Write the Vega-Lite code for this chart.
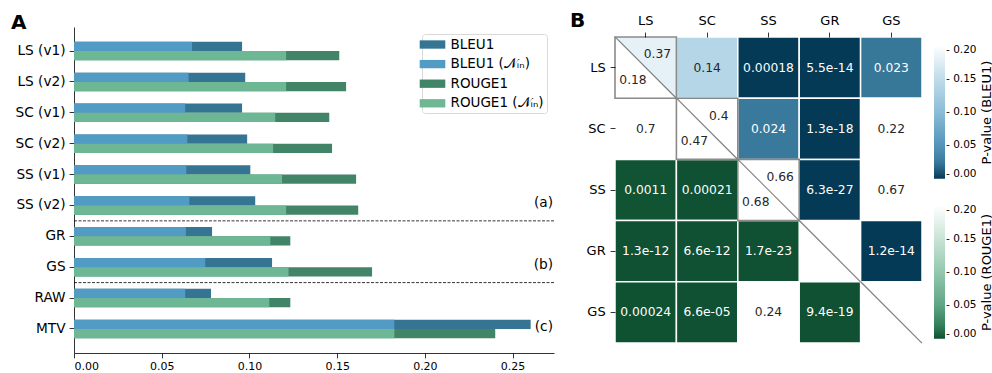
{
  "$schema": "https://vega.github.io/schema/vega-lite/v6.json",
  "padding": {"left": 11, "top": 10, "right": 0, "bottom": 0},
  "spacing": 15,
  "config": {
    "font": "DejaVu Sans",
    "view": {"stroke": null},
    "axis": {"domainColor": "#000", "tickColor": "#000", "labelColor": "#000", "titleColor": "#000", "tickWidth": 0.8, "domainWidth": 0.8, "grid": false},
    "legend": {"labelColor": "#000", "titleColor": "#000"},
    "title": {"color": "#000"}
  },
  "datasets": {
    "bars": [
      {"cat": "LS (v1)", "metric": "BLEU1", "series": "BLEU1", "subset": "all", "value": 0.0958},
      {"cat": "LS (v1)", "metric": "BLEU1", "series": "BLEU1 (𝒩ᵢₙ)", "subset": "in", "value": 0.0673},
      {"cat": "LS (v1)", "metric": "ROUGE1", "series": "ROUGE1", "subset": "all", "value": 0.1512},
      {"cat": "LS (v1)", "metric": "ROUGE1", "series": "ROUGE1 (𝒩ᵢₙ)", "subset": "in", "value": 0.1209},
      {"cat": "LS (v2)", "metric": "BLEU1", "series": "BLEU1", "subset": "all", "value": 0.0976},
      {"cat": "LS (v2)", "metric": "BLEU1", "series": "BLEU1 (𝒩ᵢₙ)", "subset": "in", "value": 0.0653},
      {"cat": "LS (v2)", "metric": "ROUGE1", "series": "ROUGE1", "subset": "all", "value": 0.1551},
      {"cat": "LS (v2)", "metric": "ROUGE1", "series": "ROUGE1 (𝒩ᵢₙ)", "subset": "in", "value": 0.1209},
      {"cat": "SC (v1)", "metric": "BLEU1", "series": "BLEU1", "subset": "all", "value": 0.0958},
      {"cat": "SC (v1)", "metric": "BLEU1", "series": "BLEU1 (𝒩ᵢₙ)", "subset": "in", "value": 0.0634},
      {"cat": "SC (v1)", "metric": "ROUGE1", "series": "ROUGE1", "subset": "all", "value": 0.1455},
      {"cat": "SC (v1)", "metric": "ROUGE1", "series": "ROUGE1 (𝒩ᵢₙ)", "subset": "in", "value": 0.1147},
      {"cat": "SC (v2)", "metric": "BLEU1", "series": "BLEU1", "subset": "all", "value": 0.0987},
      {"cat": "SC (v2)", "metric": "BLEU1", "series": "BLEU1 (𝒩ᵢₙ)", "subset": "in", "value": 0.0646},
      {"cat": "SC (v2)", "metric": "ROUGE1", "series": "ROUGE1", "subset": "all", "value": 0.1471},
      {"cat": "SC (v2)", "metric": "ROUGE1", "series": "ROUGE1 (𝒩ᵢₙ)", "subset": "in", "value": 0.1135},
      {"cat": "SS (v1)", "metric": "BLEU1", "series": "BLEU1", "subset": "all", "value": 0.1005},
      {"cat": "SS (v1)", "metric": "BLEU1", "series": "BLEU1 (𝒩ᵢₙ)", "subset": "in", "value": 0.0640},
      {"cat": "SS (v1)", "metric": "ROUGE1", "series": "ROUGE1", "subset": "all", "value": 0.1608},
      {"cat": "SS (v1)", "metric": "ROUGE1", "series": "ROUGE1 (𝒩ᵢₙ)", "subset": "in", "value": 0.1186},
      {"cat": "SS (v2)", "metric": "BLEU1", "series": "BLEU1", "subset": "all", "value": 0.1033},
      {"cat": "SS (v2)", "metric": "BLEU1", "series": "BLEU1 (𝒩ᵢₙ)", "subset": "in", "value": 0.0657},
      {"cat": "SS (v2)", "metric": "ROUGE1", "series": "ROUGE1", "subset": "all", "value": 0.1620},
      {"cat": "SS (v2)", "metric": "ROUGE1", "series": "ROUGE1 (𝒩ᵢₙ)", "subset": "in", "value": 0.1209},
      {"cat": "GR", "metric": "BLEU1", "series": "BLEU1", "subset": "all", "value": 0.0787},
      {"cat": "GR", "metric": "BLEU1", "series": "BLEU1 (𝒩ᵢₙ)", "subset": "in", "value": 0.0638},
      {"cat": "GR", "metric": "ROUGE1", "series": "ROUGE1", "subset": "all", "value": 0.1233},
      {"cat": "GR", "metric": "ROUGE1", "series": "ROUGE1 (𝒩ᵢₙ)", "subset": "in", "value": 0.1119},
      {"cat": "GS", "metric": "BLEU1", "series": "BLEU1", "subset": "all", "value": 0.1129},
      {"cat": "GS", "metric": "BLEU1", "series": "BLEU1 (𝒩ᵢₙ)", "subset": "in", "value": 0.0748},
      {"cat": "GS", "metric": "ROUGE1", "series": "ROUGE1", "subset": "all", "value": 0.1699},
      {"cat": "GS", "metric": "ROUGE1", "series": "ROUGE1 (𝒩ᵢₙ)", "subset": "in", "value": 0.1223},
      {"cat": "RAW", "metric": "BLEU1", "series": "BLEU1", "subset": "all", "value": 0.0781},
      {"cat": "RAW", "metric": "BLEU1", "series": "BLEU1 (𝒩ᵢₙ)", "subset": "in", "value": 0.0634},
      {"cat": "RAW", "metric": "ROUGE1", "series": "ROUGE1", "subset": "all", "value": 0.1233},
      {"cat": "RAW", "metric": "ROUGE1", "series": "ROUGE1 (𝒩ᵢₙ)", "subset": "in", "value": 0.1113},
      {"cat": "MTV", "metric": "BLEU1", "series": "BLEU1", "subset": "all", "value": 0.2603},
      {"cat": "MTV", "metric": "BLEU1", "series": "BLEU1 (𝒩ᵢₙ)", "subset": "in", "value": 0.1826},
      {"cat": "MTV", "metric": "ROUGE1", "series": "ROUGE1", "subset": "all", "value": 0.2401},
      {"cat": "MTV", "metric": "ROUGE1", "series": "ROUGE1 (𝒩ᵢₙ)", "subset": "in", "value": 0.1826}
    ],
    "notes": [
      {"cat": "SS (v2)", "label": "(a)"},
      {"cat": "GS", "label": "(b)"},
      {"cat": "MTV", "label": "(c)"}
    ],
    "seps": [
      {"cat": "SS (v2)"},
      {"cat": "GS"}
    ],
    "cells": [
      {"row": "LS", "col": "SC", "bleu": 0.14, "label": "0.14"},
      {"row": "LS", "col": "SS", "bleu": 0.00018, "label": "0.00018"},
      {"row": "LS", "col": "GR", "bleu": 5.5e-14, "label": "5.5e-14"},
      {"row": "LS", "col": "GS", "bleu": 0.023, "label": "0.023"},
      {"row": "SC", "col": "SS", "bleu": 0.024, "label": "0.024"},
      {"row": "SC", "col": "GR", "bleu": 1.3e-18, "label": "1.3e-18"},
      {"row": "SC", "col": "GS", "bleu": 0.22, "label": "0.22"},
      {"row": "SS", "col": "GR", "bleu": 6.3e-27, "label": "6.3e-27"},
      {"row": "SS", "col": "GS", "bleu": 0.67, "label": "0.67"},
      {"row": "GR", "col": "GS", "bleu": 1.2e-14, "label": "1.2e-14"},
      {"row": "SC", "col": "LS", "rouge": 0.7, "label": "0.7"},
      {"row": "SS", "col": "LS", "rouge": 0.0011, "label": "0.0011"},
      {"row": "SS", "col": "SC", "rouge": 0.00021, "label": "0.00021"},
      {"row": "GR", "col": "LS", "rouge": 1.3e-12, "label": "1.3e-12"},
      {"row": "GR", "col": "SC", "rouge": 6.6e-12, "label": "6.6e-12"},
      {"row": "GR", "col": "SS", "rouge": 1.7e-23, "label": "1.7e-23"},
      {"row": "GS", "col": "LS", "rouge": 0.00024, "label": "0.00024"},
      {"row": "GS", "col": "SC", "rouge": 6.6e-05, "label": "6.6e-05"},
      {"row": "GS", "col": "SS", "rouge": 0.24, "label": "0.24"},
      {"row": "GS", "col": "GR", "rouge": 9.4e-19, "label": "9.4e-19"}
    ],
    "diag": [
      {"row": "LS", "col": "LS", "bleu": 0.18, "rouge": 0.37, "bleuText": "0.18", "rougeText": "0.37"},
      {"row": "SC", "col": "SC", "bleu": 0.47, "rouge": 0.4, "bleuText": "0.47", "rougeText": "0.4"},
      {"row": "SS", "col": "SS", "bleu": 0.68, "rouge": 0.66, "bleuText": "0.68", "rougeText": "0.66"},
      {"row": "GR", "col": "GR", "bleu": null, "rouge": null, "bleuText": "", "rougeText": ""},
      {"row": "GS", "col": "GS", "bleu": null, "rouge": null, "bleuText": "", "rougeText": ""}
    ],
    "cbar": [
      {"metric": "BLEU1", "col": "GS"},
      {"metric": "ROUGE1", "col": "GS"}
    ]
  },
  "resolve": {"scale": {"color": "independent", "fill": "independent"}, "legend": {"color": "independent", "fill": "independent"}},
  "hconcat": [
    {
      "width": 480,
      "height": 326,
      "title": {"text": "A", "anchor": "start", "frame": "bounds", "fontSize": 20, "fontWeight": "bold", "offset": -22.4, "baseline": "alphabetic", "dx": -4},
      "encoding": {
        "y": {
          "field": "cat", "type": "nominal",
          "scale": {"domain": ["LS (v1)", "LS (v2)", "SC (v1)", "SC (v2)", "SS (v1)", "SS (v2)", "GR", "GS", "RAW", "MTV"], "paddingInner": 0.4, "paddingOuter": 0.48},
          "axis": {"title": null, "labelFontSize": 13.7, "tickSize": 4.9, "labelPadding": 4, "domain": true}
        }
      },
      "layer": [
        {
          "data": {"name": "bars"},
          "transform": [{"filter": "datum.subset == 'all'"}],
          "mark": {"type": "bar"},
          "encoding": {
            "x": {"field": "value", "type": "quantitative", "stack": null,
              "scale": {"domain": [0, 0.2736], "nice": false, "zero": true},
              "axis": {"title": null, "values": [0, 0.05, 0.1, 0.15, 0.2, 0.25], "format": ".2f", "labelFontSize": 11, "tickSize": 4.9, "labelPadding": 3}},
            "yOffset": {"field": "metric", "type": "nominal", "scale": {"domain": ["BLEU1", "ROUGE1"], "paddingInner": 0, "paddingOuter": 0}},
            "color": {"field": "series", "type": "nominal",
              "scale": {"domain": ["BLEU1", "BLEU1 (𝒩ᵢₙ)", "ROUGE1", "ROUGE1 (𝒩ᵢₙ)"], "range": ["#357593", "#529bc4", "#428467", "#6db795"]},
              "legend": {"orient": "top-right", "offset": 7, "title": null, "symbolType": "M-1.6,-0.52H1.6V0.52H-1.6Z", "symbolSize": 256, "symbolStrokeWidth": 0, "symbolOffset": 0, "labelOffset": 10, "labelFontSize": 13.5, "rowPadding": 4.6, "padding": 2.5, "strokeColor": "#d9d9d9", "fillColor": "#ffffff", "cornerRadius": 3}}
          }
        },
        {
          "data": {"name": "bars"},
          "transform": [{"filter": "datum.subset == 'in'"}],
          "mark": {"type": "bar"},
          "encoding": {
            "x": {"field": "value", "type": "quantitative", "stack": null},
            "yOffset": {"field": "metric", "type": "nominal"},
            "color": {"field": "series", "type": "nominal"}
          }
        },
        {
          "data": {"name": "seps"},
          "mark": {"type": "rule", "strokeDash": [3, 1.5], "strokeWidth": 0.8, "color": "#000"},
          "encoding": {"y": {"field": "cat", "type": "nominal", "bandPosition": 1.333}}
        },
        {
          "data": {"name": "notes"},
          "mark": {"type": "text", "align": "right", "baseline": "middle", "fontSize": 13.7, "dx": -1, "dy": -2, "color": "#000"},
          "encoding": {
            "x": {"value": "width"},
            "y": {"field": "cat", "type": "nominal"},
            "text": {"field": "label"}
          }
        }
      ]
    },
    {
      "width": 307,
      "height": 316,
      "title": {"text": "B", "anchor": "start", "frame": "bounds", "fontSize": 20, "fontWeight": "bold", "offset": -32.4, "baseline": "alphabetic", "dx": -16},
      "resolve": {"scale": {"y": "independent"}, "axis": {"y": "independent"}},
      "encoding": {
        "x": {"field": "col", "type": "nominal",
          "scale": {"domain": ["LS", "SC", "SS", "GR", "GS"], "paddingInner": 0, "paddingOuter": 0},
          "axis": {"orient": "top", "offset": -10, "title": null, "domain": false, "labelAngle": 0, "labelFontSize": 13, "tickSize": 4.9, "labelPadding": 4.9}}
      },
      "layer": [
        {
          "encoding": {
            "y": {"field": "row", "type": "nominal",
              "scale": {"domain": ["LS", "SC", "SS", "GR", "GS"], "paddingInner": 0, "paddingOuter": 0.0817, "align": 1},
              "axis": {"title": null, "domain": false, "labelFontSize": 13, "tickSize": 4.9, "labelPadding": 4.9}}
          },
          "layer": [
            {
              "data": {"name": "cells"},
              "transform": [{"filter": "isValid(datum.bleu)"}],
              "mark": {"type": "rect", "stroke": "#ffffff", "strokeWidth": 1.5},
              "encoding": {
                "color": {"field": "bleu", "type": "quantitative", "title": null,
                  "scale": {"domain": [0, 0.025, 0.05, 0.1, 0.15, 0.2], "range": ["#053a56", "#3b7c9e", "#5394b9", "#8bbdd6", "#c0dcea", "#ffffff"], "clamp": true, "interpolate": "rgb"},
                  "legend": {"orient": "none", "legendX": 319, "legendY": 18.3, "direction": "vertical", "gradientLength": 133.4, "gradientThickness": 11, "gradientStrokeWidth": 0, "values": [0, 0.05, 0.1, 0.15, 0.2], "format": ".2f", "labelExpr": "'- ' + datum.label", "labelFontSize": 10.5, "labelOffset": 1, "title": null, "padding": 0}}
              }
            },
            {
              "data": {"name": "cells"},
              "transform": [{"filter": "isValid(datum.rouge)"}],
              "mark": {"type": "rect", "stroke": "#ffffff", "strokeWidth": 1.5},
              "encoding": {
                "fill": {"field": "rouge", "type": "quantitative", "title": null,
                  "scale": {"domain": [0, 0.02, 0.05, 0.1, 0.15, 0.2], "range": ["#0f5132", "#33805b", "#5ea585", "#94c8ae", "#c8e4d6", "#ffffff"], "clamp": true, "interpolate": "rgb"},
                  "legend": {"orient": "none", "legendX": 319, "legendY": 178.3, "direction": "vertical", "gradientLength": 133.4, "gradientThickness": 11, "gradientStrokeWidth": 0, "values": [0, 0.05, 0.1, 0.15, 0.2], "format": ".2f", "labelExpr": "'- ' + datum.label", "labelFontSize": 10.5, "labelOffset": 1, "title": null, "padding": 0}}
              }
            },
            {
              "data": {"name": "diag"},
              "transform": [{"filter": "isValid(datum.bleu)"}],
              "mark": {"type": "point", "shape": "M-1,-1L1,-1L1,1Z", "filled": true, "size": 3760, "strokeWidth": 0, "opacity": 1},
              "encoding": {"color": {"field": "bleu", "type": "quantitative", "title": null}}
            },
            {
              "data": {"name": "diag"},
              "transform": [{"filter": "isValid(datum.rouge)"}],
              "mark": {"type": "point", "shape": "M-1,-1L-1,1L1,1Z", "filled": true, "size": 3760, "strokeWidth": 0, "opacity": 1},
              "encoding": {"fill": {"field": "rouge", "type": "quantitative", "title": null}}
            },
            {
              "data": {"name": "diag"},
              "transform": [{"filter": "isValid(datum.bleu)"}],
              "mark": {"type": "rect", "fillOpacity": 0, "stroke": "#8a8a8a", "strokeWidth": 1.6}
            },
            {
              "data": {"name": "diag"},
              "mark": {"type": "point", "shape": "M-1,-1L1,1", "filled": false, "size": 3760, "stroke": "#808080", "strokeWidth": 1.2, "opacity": 1}
            },
            {
              "data": {"name": "cells"},
              "mark": {"type": "text", "fontSize": 12.3, "baseline": "middle"},
              "encoding": {
                "text": {"field": "label"},
                "color": {"condition": {"test": "(isValid(datum.bleu) ? datum.bleu : datum.rouge) < 0.08", "value": "#ffffff"}, "value": "#262626"}
              }
            },
            {
              "data": {"name": "diag"},
              "mark": {"type": "text", "fontSize": 12.3, "baseline": "middle", "dx": 11.7, "dy": -13.3, "color": "#262626"},
              "encoding": {"text": {"field": "rougeText"}}
            },
            {
              "data": {"name": "diag"},
              "mark": {"type": "text", "fontSize": 12.3, "baseline": "middle", "dx": -12.7, "dy": 12, "color": "#262626"},
              "encoding": {"text": {"field": "bleuText"}}
            }
          ]
        },
        {
          "data": {"name": "cbar"},
          "transform": [{"filter": "datum.metric == 'BLEU1'"}],
          "mark": {"type": "point", "opacity": 0},
          "encoding": {
            "y": {"field": "metric", "type": "nominal",
              "axis": {"orient": "right", "title": "P-value (BLEU1)", "labels": false, "ticks": false, "domain": false, "titleAngle": 270, "titleX": 64, "titleY": 85, "titleAlign": "center", "titleBaseline": "middle", "titleFontSize": 13, "titleFontWeight": "normal"}}
          }
        },
        {
          "data": {"name": "cbar"},
          "transform": [{"filter": "datum.metric == 'ROUGE1'"}],
          "mark": {"type": "point", "opacity": 0},
          "encoding": {
            "y": {"field": "metric", "type": "nominal",
              "axis": {"orient": "right", "title": "P-value (ROUGE1)", "labels": false, "ticks": false, "domain": false, "titleAngle": 270, "titleX": 64, "titleY": 245, "titleAlign": "center", "titleBaseline": "middle", "titleFontSize": 13, "titleFontWeight": "normal"}}
          }
        }
      ]
    }
  ]
}
